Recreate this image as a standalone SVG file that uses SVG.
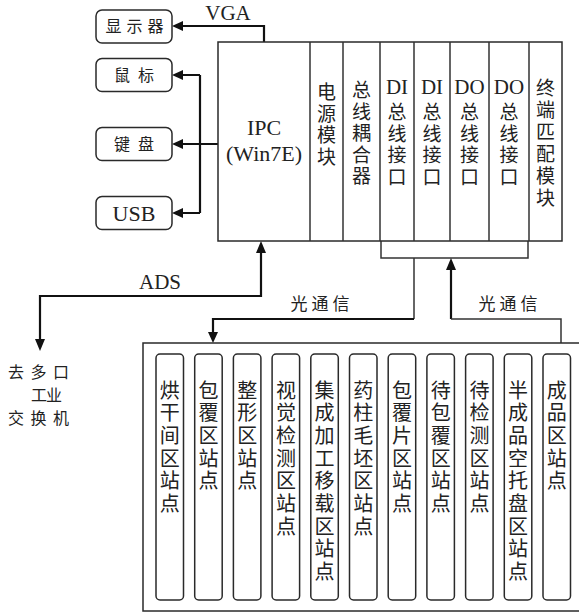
<svg xmlns="http://www.w3.org/2000/svg" width="579" height="612" viewBox="0 0 579 612">
<style>
.bg{fill:#fff}
.box{fill:#fff;stroke:#2a2a2a;stroke-width:1.5}
.thin{fill:none;stroke:#333;stroke-width:1.5}
.wire{fill:none;stroke:#111;stroke-width:2.2}
.ah{fill:#111}
.cjk{font-family:"Noto Sans CJK SC","Noto Sans CJK JP",sans-serif;fill:#222}
.lat{font-family:"Liberation Serif","Noto Sans CJK SC",serif;fill:#222}
.v{font-size:19px;writing-mode:vertical-rl;letter-spacing:2.5px}
.s{font-size:20px;writing-mode:vertical-rl;letter-spacing:2.7px}
</style>
<rect class="bg" x="0" y="0" width="579" height="612"/>

<g id="connectors">
  <path class="wire" d="M264,42 V26 H182"/>
  <polygon class="ah" points="172,26 183,21 183,31"/>
  <path class="wire" d="M200,75 V213"/>
  <path class="wire" d="M200,75 H182 M200,213 H182 M218,144 H182"/>
  <polygon class="ah" points="172,75 183,70 183,80"/>
  <polygon class="ah" points="172,144 183,139 183,149"/>
  <polygon class="ah" points="172,213 183,208 183,218"/>
  <path class="wire" d="M261,252 V296 H40 V340"/>
  <polygon class="ah" points="261,241 256,253 266,253"/>
  <polygon class="ah" points="40,351 35,339 45,339"/>
  <path class="thin" d="M381,241 V258 H528 V241"/>
  <path class="thin" d="M414,258 V319"/>
  <path class="wire" d="M414,319 H213 V333"/>
  <polygon class="ah" points="213,343 208,332 218,332"/>
  <path class="wire" d="M451,269 V319"/>
  <polygon class="ah" points="451,258 446,270 456,270"/>
  <path class="thin" d="M451,319 H561 V343"/>
</g>

<g id="labels">
  <text class="lat" x="228" y="20" font-size="21" text-anchor="middle">VGA</text>
  <text class="lat" x="160" y="289" font-size="21" text-anchor="middle">ADS</text>
  <text class="cjk" x="322" y="310" font-size="17" text-anchor="middle" letter-spacing="4">光通信</text>
  <text class="cjk" x="510" y="310" font-size="17" text-anchor="middle" letter-spacing="4">光通信</text>
</g>

<g id="switch">
  <text class="cjk" x="8" y="378" font-size="16" letter-spacing="6.5">去多口</text>
  <text class="cjk" x="31" y="401" font-size="16" letter-spacing="0">工<tspan x="46">业</tspan></text>
  <text class="cjk" x="8" y="424" font-size="16" letter-spacing="6.5">交换机</text>
</g>

<g id="monitor">
  <rect class="box" x="96" y="10" width="76" height="33" rx="6"/>
  <text class="cjk" x="137" y="32" font-size="16" text-anchor="middle" letter-spacing="5">显示器</text>
</g>
<g id="mouse">
  <rect class="box" x="96" y="58.5" width="76" height="33" rx="6"/>
  <text class="cjk" x="138" y="81" font-size="16" text-anchor="middle" letter-spacing="8">鼠标</text>
</g>
<g id="keyboard">
  <rect class="box" x="96" y="127.5" width="76" height="33" rx="6"/>
  <text class="cjk" x="138" y="150" font-size="16" text-anchor="middle" letter-spacing="8">键盘</text>
</g>
<g id="usb">
  <rect class="box" x="96" y="196.5" width="76" height="33" rx="6"/>
  <text class="lat" x="134" y="221" font-size="22" text-anchor="middle">USB</text>
</g>

<g id="rack">
  <rect class="box" x="218" y="42" width="344" height="199"/>
  <path class="thin" d="M310,42 V241 M343,42 V241 M380,42 V241 M414,42 V241 M450,42 V241 M489,42 V241 M529,42 V241"/>
</g>
<g id="ipc">
  <text class="lat" x="264" y="135" font-size="22" text-anchor="middle">IPC</text>
  <text class="lat" x="264" y="161" font-size="22" text-anchor="middle">(Win7E)</text>
</g>
<g id="power"><text class="cjk v" x="326.5" y="82.5">电源模块</text></g>
<g id="coupler"><text class="cjk v" x="361.5" y="80.5">总线耦合器</text></g>
<g id="di1">
  <text class="lat" x="397" y="94" font-size="21" text-anchor="middle">DI</text>
  <text class="cjk v" x="397" y="102.5">总线接口</text>
</g>
<g id="di2">
  <text class="lat" x="432" y="94" font-size="21" text-anchor="middle">DI</text>
  <text class="cjk v" x="432" y="102.5">总线接口</text>
</g>
<g id="do1">
  <text class="lat" x="469.5" y="94" font-size="21" text-anchor="middle">DO</text>
  <text class="cjk v" x="469.5" y="102.5">总线接口</text>
</g>
<g id="do2">
  <text class="lat" x="509" y="94" font-size="21" text-anchor="middle">DO</text>
  <text class="cjk v" x="509" y="102.5">总线接口</text>
</g>
<g id="terminator"><text class="cjk v" x="545.5" y="78.5" style="letter-spacing:3px">终端匹配模块</text></g>

<g id="station-panel">
  <rect class="box" x="143" y="343" width="450" height="268"/>
</g>
<g id="st1"><rect class="box" x="156" y="354" width="27.5" height="246" rx="4"/><text class="cjk s" x="169.8" y="380">烘干间区站点</text></g>
<g id="st2"><rect class="box" x="194.7" y="354" width="27.5" height="246" rx="4"/><text class="cjk s" x="208.5" y="380">包覆区站点</text></g>
<g id="st3"><rect class="box" x="233.4" y="354" width="27.5" height="246" rx="4"/><text class="cjk s" x="247.2" y="380">整形区站点</text></g>
<g id="st4"><rect class="box" x="272.1" y="354" width="27.5" height="246" rx="4"/><text class="cjk s" x="285.9" y="380">视觉检测区站点</text></g>
<g id="st5"><rect class="box" x="310.8" y="354" width="27.5" height="246" rx="4"/><text class="cjk s" x="324.6" y="380">集成加工移载区站点</text></g>
<g id="st6"><rect class="box" x="349.5" y="354" width="27.5" height="246" rx="4"/><text class="cjk s" x="363.3" y="380">药柱毛坯区站点</text></g>
<g id="st7"><rect class="box" x="388.2" y="354" width="27.5" height="246" rx="4"/><text class="cjk s" x="402" y="380">包覆片区站点</text></g>
<g id="st8"><rect class="box" x="426.9" y="354" width="27.5" height="246" rx="4"/><text class="cjk s" x="440.7" y="380">待包覆区站点</text></g>
<g id="st9"><rect class="box" x="465.6" y="354" width="27.5" height="246" rx="4"/><text class="cjk s" x="479.4" y="380">待检测区站点</text></g>
<g id="st10"><rect class="box" x="504.3" y="354" width="27.5" height="246" rx="4"/><text class="cjk s" x="518.1" y="380">半成品空托盘区站点</text></g>
<g id="st11"><rect class="box" x="543" y="354" width="27.5" height="246" rx="4"/><text class="cjk s" x="556.8" y="380">成品区站点</text></g>
</svg>
